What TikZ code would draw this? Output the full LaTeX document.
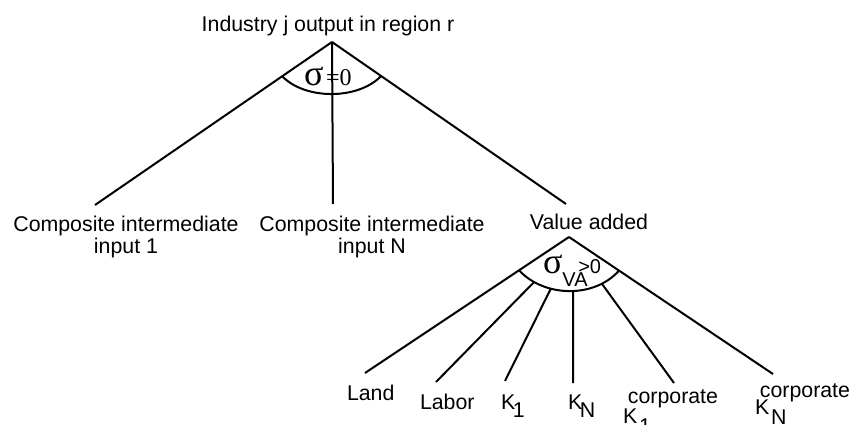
\documentclass[tikz,border=0pt]{standalone}
\usepackage{fontspec}
\setmainfont{Liberation Sans}
\newfontfamily\greekfont{Liberation Serif}
\usetikzlibrary{positioning,calc}

\newcommand{\sigfont}{\greekfont\fontsize{27}{27}\selectfont}
\newcommand{\Ksub}[1]{K\kern-1.8pt\raisebox{-6pt}{#1}}
\newcommand{\Kcorp}[2]{K\rlap{\kern-7pt\raisebox{#2}{corporate}}\kern1.5pt\raisebox{-7.5pt}{#1}}

\begin{document}
\begin{tikzpicture}[x=0.75pt,y=-0.75pt,line width=1.5pt,
  every node/.style={font=\fontsize{16}{16.5}\selectfont, inner sep=0pt},
  leaf/.style={anchor=base west}]

\useasboundingbox (0,0) rectangle (854,425);

\def \cut {0.21}  % where the arc meets the branches
\def \vcut {0.245}

% industry output nest
\node[anchor=base] (out) at (328,31) {Industry j output in region r};
\coordinate (top) at (332,42);
\coordinate (e-ci1) at (95,205);
\coordinate (e-ciN) at (333,204);
\coordinate (e-va) at (566,204);

\draw (top) -- (e-ci1);
\draw (top) -- (e-ciN);
\draw (top) -- (e-va);
\draw ($(top)!\cut!(e-ci1)$) .. controls (305,100) and (358,100) .. ($(top)!\cut!(e-va)$);
\node[anchor=base west] (sig) at (303,85) {\sigfont σ\kern2pt\fontsize{18}{18}\selectfont=0};

\node[anchor=north, align=center] (ci1) at (126,215) {Composite intermediate\\input 1};
\node[anchor=north, align=center] (ciN) at (372,215) {Composite intermediate\\input N};
\node[anchor=north] (va) at (589,213) {Value added};

% value added nest
\coordinate (vtop) at (569,237);
\coordinate (e-land) at (365,373);
\coordinate (e-ckN) at (773,374);
\draw (vtop) -- (e-land);
\draw (vtop) -- (e-ckN);
\draw ($(vtop)!\vcut!(e-land)$) coordinate (vl)
  .. controls (545,298) and (595,298) .. ($(vtop)!\vcut!(e-ckN)$) coordinate (vr);
\node[anchor=base west] (sigva) at (542,273) {{\sigfont σ}%
  \raisebox{-9.75pt}{\fontsize{15}{15}\selectfont VA}\kern-7pt%
  {\fontsize{15}{15}\selectfont >0}};

\foreach \name/\t/\x/\y in {lab/0.17/436/382, k1/0.33/505/381, kN/0.53/573/383, ck1/0.8/674/383}
{
  \path (vl) .. controls (545,298) and (595,298) .. (vr) coordinate[pos=\t] (a-\name);
  \coordinate (e-\name) at (\x,\y);
  \draw (a-\name) -- (e-\name);
}

\node[leaf] (land) at (346,400) {Land};
\node[leaf] (lab) at (419,409) {Labor};
\node[leaf] (k1) at (500,409) {\Ksub{1}};
\node[leaf] (kN) at (567,409) {\Ksub{N}};
\node[leaf] (ck1) at (622,423) {\Kcorp{1}{15pt}};
\node[leaf] (ckN) at (754,414) {\Kcorp{N}{12.75pt}};

\end{tikzpicture}
\end{document}
